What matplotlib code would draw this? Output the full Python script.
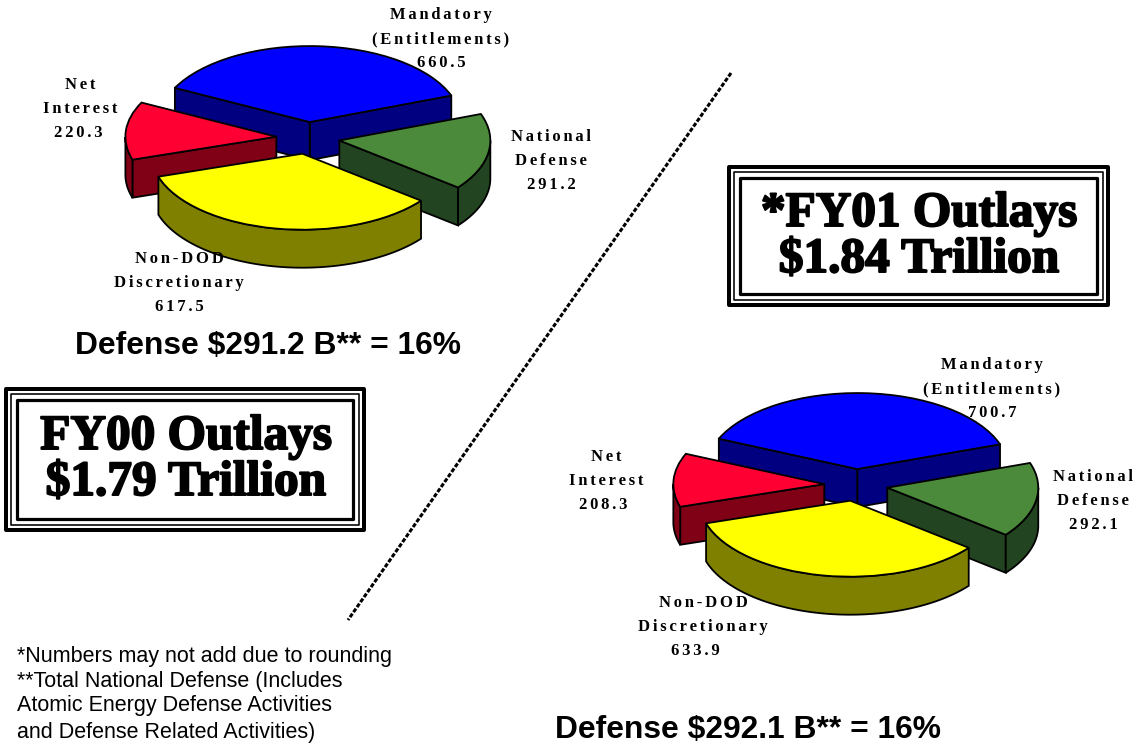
import matplotlib
matplotlib.use("Agg")
import matplotlib.pyplot as plt
import matplotlib.patheffects as pe
from matplotlib.patches import Rectangle
import numpy as np

# Outlays, billions. Order runs counterclockwise from the right edge of the blue slice
categories = ["Mandatory\n(Entitlements)", "Net\nInterest", "Non-DOD\nDiscretionary", "National\nDefense"]
values_fy00 = [660.5, 220.3, 617.5, 291.2]
values_fy01 = [700.7, 208.3, 633.9, 292.1]
top_colors = ["#0000FF", "#FF0033", "#FFFF00", "#4A8A3A"]
side_colors = ["#000080", "#800016", "#808000", "#234420"]
title_fy00 = ["FY00 Outlays", "$1.79 Trillion"]
title_fy01 = ["*FY01 Outlays", "$1.84 Trillion"]
defense_fy00 = "Defense $291.2 B** = 16%"
defense_fy01 = "Defense $292.1 B** = 16%"
footnotes = [
    "*Numbers may not add due to rounding",
    "**Total National Defense (Includes",
    "Atomic Energy Defense Activities",
    "and Defense Related Activities)",
]

W, H = 1140, 745
RX, RY, DEPTH = 151, 76, 38  # pixels
GAP = "\u2006"


def spaced(s):
    # the labels are letterspaced in the original
    return GAP.join(s)


def draw_pie(fig, values, cx, cy, startangle):
    # axes sized so that one data unit is RX by RY pixels
    xr, yr = 1.5, 2.0
    ax = fig.add_axes([(cx - xr * RX) / W, 1 - (cy + yr * RY) / H, 2 * xr * RX / W, 2 * yr * RY / H])
    wedges, _ = ax.pie(
        values,
        colors=top_colors,
        explode=[0.21] * len(values),
        startangle=startangle,
        wedgeprops={"edgecolor": "black", "linewidth": 1.3},
    )
    ax.set_aspect("auto")
    ax.set_xlim(-xr, xr)
    ax.set_ylim(-yr, yr)
    ax.patch.set_alpha(0)
    d = DEPTH / RY
    # back to front: blue, red, green, yellow
    for z, i in enumerate([0, 1, 3, 2]):
        w = wedges[i]
        x0, y0 = w.center
        w.set_zorder(2 * z + 3)
        for th, sign in [(w.theta1, -1), (w.theta2, 1)]:
            # flat cut faces, only where they turn toward the viewer
            if np.sin(np.radians(th + sign * 90)) < 0:
                x1 = x0 + np.cos(np.radians(th))
                y1 = y0 + np.sin(np.radians(th))
                ax.fill([x0, x1, x1, x0], [y0, y1, y1 - d, y0 - d], fc=side_colors[i],
                        ec="black", lw=1.3, zorder=2 * z + 2)
        t = np.linspace(w.theta1, w.theta2, 200)
        t = t[np.sin(np.radians(t)) <= 0]
        if len(t) > 1:
            xs = x0 + np.cos(np.radians(t))
            ys = y0 + np.sin(np.radians(t))
            ax.fill(np.r_[xs, xs[::-1]], np.r_[ys, ys[::-1] - d], fc=side_colors[i],
                    ec="black", lw=1.3, zorder=2 * z + 2)
    return ax


def draw_box(ax, x0, y0, x1, y1):
    for inset, lw in [(2, 4), (7, 1.6), (13, 3.2)]:
        ax.add_patch(Rectangle((x0 + inset, y0 + inset), x1 - x0 - 2 * inset, y1 - y0 - 2 * inset,
                               fill=False, ec="black", lw=lw * 0.72, joinstyle="round"))


def draw_title(ax, lines, x, baselines):
    for line, y in zip(lines, baselines):
        ax.text(x, y, line, ha="center", va="baseline", family="Liberation Serif", weight="bold",
                fontsize=35.5, path_effects=[pe.withStroke(linewidth=1.4, foreground="black")])


def pie_labels(ax, values, positions):
    for cat, val, (x, ys, xv) in zip(categories, values, positions):
        lines = cat.split("\n")
        for line, y in zip(lines, ys):
            ax.text(x, y, spaced(line), ha="center", va="center", family="Liberation Serif",
                    weight="bold", fontsize=12)
        ax.text(xv, ys[-1] + 24, spaced(f"{val}"), ha="center", va="center", family="Liberation Serif",
                weight="bold", fontsize=12)


fig = plt.figure(figsize=(W / 100, H / 100), dpi=100, facecolor="white")
draw_pie(fig, values_fy00, 308, 138, 20.4)
draw_pie(fig, values_fy01, 856, 485, 19.0)

# overlay in pixel coordinates for everything that is not a pie
over = fig.add_axes([0, 0, 1, 1], zorder=5)
over.set_xlim(0, W)
over.set_ylim(H, 0)
over.axis("off")

over.plot([731, 348], [73, 620], color="black", lw=2.2, ls=(0, (1.4, 0.6)))

draw_box(over, 727, 165, 1110, 307)
draw_box(over, 4, 387, 366, 532)
draw_title(over, title_fy01, 919, [226, 272])
draw_title(over, title_fy00, 186, [449, 495])

pie_labels(over, values_fy00, [
    (441, [15, 39], 441),
    (80, [85, 109], 78),
    (179, [259, 283], 179),
    (551, [137, 161], 551),
])
pie_labels(over, values_fy01, [
    (992, [365, 389], 992),
    (606, [457, 481], 603),
    (703, [603, 627], 695),
    (1093, [477, 501], 1093),
])

over.text(268, 354, defense_fy00, ha="center", va="baseline", family="Liberation Sans", weight="bold", fontsize=22.85)
over.text(748, 738, defense_fy01, ha="center", va="baseline", family="Liberation Sans", weight="bold", fontsize=22.85)

for line, y in zip(footnotes, [662, 687, 711, 738]):
    over.text(17, y, line, ha="left", va="baseline", family="Liberation Sans", fontsize=15.5)

fig.savefig("out.png", dpi=100)
